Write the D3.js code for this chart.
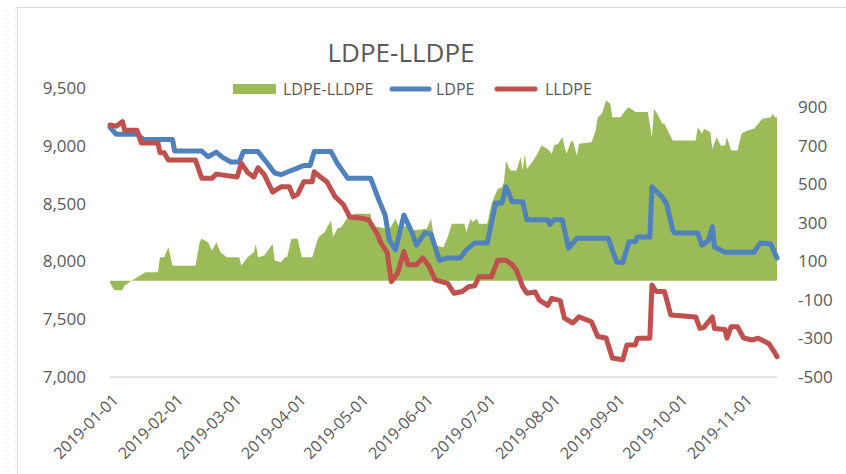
<!DOCTYPE html>
<html>
<head>
<meta charset="utf-8">
<script src="https://cdn.jsdelivr.net/npm/d3@7"></script>
<style>
  body { margin: 0; background: #fff; }
  text { font-family: "Open Sans", "Noto Sans", sans-serif; fill: #595959; }
</style>
</head>
<body>
<div id="chart"></div>
<script>
// LDPE price (left axis)
var ldpeDates = [
  "2019-01-01","2019-01-04","2019-01-14","2019-01-17","2019-01-31","2019-02-01","2019-02-14","2019-02-17","2019-02-21","2019-02-24",
  "2019-02-28","2019-03-04","2019-03-06","2019-03-13","2019-03-17","2019-03-21","2019-03-24","2019-03-28","2019-03-31","2019-04-04",
  "2019-04-07","2019-04-09","2019-04-17","2019-04-20","2019-04-25","2019-05-06","2019-05-10","2019-05-13","2019-05-15","2019-05-18",
  "2019-05-20","2019-05-22","2019-05-26","2019-05-28","2019-06-01","2019-06-04","2019-06-08","2019-06-12","2019-06-18","2019-06-21",
  "2019-06-25","2019-07-01","2019-07-05","2019-07-08","2019-07-10","2019-07-13","2019-07-18","2019-07-20","2019-07-30","2019-07-31",
  "2019-08-02","2019-08-06","2019-08-09","2019-08-13","2019-08-28","2019-09-01","2019-09-04","2019-09-07","2019-09-10","2019-09-11",
  "2019-09-17","2019-09-18","2019-09-23","2019-09-25","2019-09-28","2019-09-29","2019-10-10","2019-10-12","2019-10-15","2019-10-17",
  "2019-10-18","2019-10-23","2019-11-06","2019-11-09","2019-11-14","2019-11-17"];
var ldpeValues = [
  9160,9100,9100,9055,9055,8955,8955,8905,8945,8900,
  8860,8860,8950,8950,8860,8765,8750,8780,8800,8830,
  8830,8950,8950,8850,8720,8720,8530,8400,8185,8100,
  8250,8400,8245,8140,8245,8238,8010,8030,8030,8100,
  8160,8160,8505,8505,8645,8515,8515,8360,8360,8320,
  8360,8360,8115,8200,8200,7995,7990,8170,8170,8210,
  8210,8645,8555,8500,8270,8245,8245,8140,8180,8300,
  8125,8080,8080,8160,8150,8030];

// LLDPE price (left axis)
var lldpeDates = [
  "2019-01-01","2019-01-04","2019-01-07","2019-01-08","2019-01-14","2019-01-16","2019-01-24","2019-01-25","2019-01-27","2019-01-29",
  "2019-02-11","2019-02-14","2019-02-19","2019-02-21","2019-03-03","2019-03-05","2019-03-08","2019-03-11","2019-03-13","2019-03-16",
  "2019-03-20","2019-03-24","2019-03-28","2019-03-30","2019-04-01","2019-04-04","2019-04-08","2019-04-09","2019-04-12","2019-04-15",
  "2019-04-19","2019-04-23","2019-04-26","2019-05-01","2019-05-05","2019-05-09","2019-05-11","2019-05-14","2019-05-16","2019-05-19",
  "2019-05-22","2019-05-24","2019-05-28","2019-05-31","2019-06-03","2019-06-06","2019-06-12","2019-06-15","2019-06-19","2019-06-22",
  "2019-06-25","2019-06-27","2019-07-03","2019-07-06","2019-07-10","2019-07-13","2019-07-15","2019-07-18","2019-07-20","2019-07-24",
  "2019-07-26","2019-07-30","2019-08-01","2019-08-05","2019-08-07","2019-08-11","2019-08-14","2019-08-20","2019-08-23","2019-08-27",
  "2019-08-30","2019-09-04","2019-09-06","2019-09-10","2019-09-11","2019-09-17","2019-09-18","2019-09-20","2019-09-24","2019-09-27",
  "2019-10-09","2019-10-11","2019-10-13","2019-10-17","2019-10-18","2019-10-23","2019-10-24","2019-10-26","2019-10-29","2019-11-01",
  "2019-11-05","2019-11-08","2019-11-13","2019-11-16","2019-11-17"];
var lldpeValues = [
  9180,9170,9210,9135,9135,9025,9025,8940,8940,8877,
  8877,8720,8720,8755,8730,8850,8770,8730,8810,8750,
  8600,8645,8645,8560,8580,8690,8690,8775,8730,8690,
  8560,8490,8385,8375,8360,8245,8160,8075,7825,7900,
  8085,7970,7970,8030,7960,7840,7810,7725,7740,7780,
  7790,7867,7867,8010,8010,7970,7925,7780,7725,7735,
  7665,7620,7680,7660,7510,7467,7520,7478,7350,7337,
  7165,7150,7277,7277,7335,7335,7796,7740,7740,7537,
  7520,7420,7430,7520,7420,7410,7337,7435,7435,7337,
  7320,7335,7290,7208,7175];

// LDPE-LLDPE spread (right axis)
var spreadDates = [
  "2019-01-01","2019-01-03","2019-01-07","2019-01-08","2019-01-14","2019-01-18","2019-01-24","2019-01-25","2019-01-27","2019-01-29",
  "2019-01-31","2019-02-11","2019-02-13","2019-02-14","2019-02-17","2019-02-19","2019-02-21","2019-02-23","2019-02-26","2019-03-04",
  "2019-03-05","2019-03-08","2019-03-11","2019-03-12","2019-03-13","2019-03-16","2019-03-20","2019-03-21","2019-03-24","2019-03-26",
  "2019-03-27","2019-03-29","2019-04-01","2019-04-03","2019-04-08","2019-04-11","2019-04-14","2019-04-17","2019-04-18","2019-04-20",
  "2019-04-22","2019-04-24","2019-04-26","2019-04-29","2019-05-06","2019-05-07","2019-05-10","2019-05-15","2019-05-18","2019-05-20",
  "2019-05-25","2019-05-26","2019-06-02","2019-06-04","2019-06-06","2019-06-10","2019-06-12","2019-06-14","2019-06-20","2019-06-21",
  "2019-06-23","2019-06-24","2019-06-26","2019-06-27","2019-07-01","2019-07-03","2019-07-06","2019-07-08","2019-07-09","2019-07-10",
  "2019-07-12","2019-07-15","2019-07-17","2019-07-18","2019-07-19","2019-07-20","2019-07-23","2019-07-25","2019-07-27","2019-07-30",
  "2019-08-01","2019-08-02","2019-08-04","2019-08-06","2019-08-08","2019-08-10","2019-08-11","2019-08-13","2019-08-14","2019-08-20",
  "2019-08-22","2019-08-23","2019-08-25","2019-08-27","2019-08-29","2019-08-30","2019-09-03","2019-09-04","2019-09-06","2019-09-07",
  "2019-09-10","2019-09-16","2019-09-18","2019-09-19","2019-09-21","2019-09-23","2019-09-24","2019-09-26","2019-09-28","2019-10-09",
  "2019-10-10","2019-10-12","2019-10-13","2019-10-16","2019-10-17","2019-10-19","2019-10-21","2019-10-23","2019-10-24","2019-10-26",
  "2019-10-29","2019-10-31","2019-11-01","2019-11-03","2019-11-06","2019-11-10","2019-11-14","2019-11-15","2019-11-16","2019-11-17"];
var spreadValues = [
  -10,-50,-50,-25,18,44,44,122,122,174,
  78,78,200,217,200,157,200,148,122,122,
  78,122,148,190,122,130,190,105,96,122,
  122,217,217,122,122,225,252,312,225,269,
  278,312,338,347,347,278,278,265,322,269,
  295,260,269,322,182,174,225,295,295,252,
  321,305,321,295,295,399,476,485,511,623,
  572,572,640,572,658,580,623,658,701,684,
  658,701,710,745,658,719,727,650,710,719,
  780,848,866,935,918,848,848,866,892,900,
  875,875,745,892,857,814,814,770,727,727,
  797,762,788,770,684,745,701,701,745,675,
  675,762,770,779,788,840,848,866,848,848];

var monthTicks = ["2019-01-01","2019-02-01","2019-03-01","2019-04-01","2019-05-01","2019-06-01",
  "2019-07-01","2019-08-01","2019-09-01","2019-10-01","2019-11-01"];
var leftTicks = [7000, 7500, 8000, 8500, 9000, 9500];
var rightTicks = [-500, -300, -100, 100, 300, 500, 700, 900];

var seriesNames = ["LDPE-LLDPE", "LDPE", "LLDPE"];
var colors = { spread: "#9bbb59", ldpe: "#4f81bd", lldpe: "#c0504d" };

var width = 846, height = 474;
var parse = d3.timeParse("%Y-%m-%d");

function zip(dates, values) {
  return dates.map(function (d, i) { return { date: parse(d), value: values[i] }; });
}
var ldpe = zip(ldpeDates, ldpeValues);
var lldpe = zip(lldpeDates, lldpeValues);
var spread = zip(spreadDates, spreadValues);

var svg = d3.select("#chart").append("svg")
  .attr("width", width)
  .attr("height", height);

// outer frame and sheet dots
svg.append("rect")
  .attr("x", 17.5).attr("y", 7.5)
  .attr("width", 900).attr("height", 500)
  .attr("fill", "none")
  .attr("stroke", "#d9d9d9");
[6, 15].forEach(function (xx) {
  svg.append("line")
    .attr("x1", xx).attr("x2", xx)
    .attr("y1", 10).attr("y2", height)
    .attr("stroke", "#c8c8c8")
    .attr("stroke-dasharray", "1,7");
});

var plotLeft = 110, plotRight = 777, plotTop = 88, plotBottom = 377;

var x = d3.scaleTime()
  .domain([parse("2019-01-01"), parse("2019-11-17")])
  .range([plotLeft, plotRight]);
var yLeft = d3.scaleLinear().domain([7000, 9500]).range([plotBottom, plotTop]);
var yRight = d3.scaleLinear().domain([-500, 1000]).range([plotBottom, plotTop]);

// baseline gridline
svg.append("line")
  .attr("x1", plotLeft).attr("x2", plotRight)
  .attr("y1", plotBottom).attr("y2", plotBottom)
  .attr("stroke", "#d9d9d9")
  .attr("stroke-width", 1.5);

// spread area
var area = d3.area()
  .x(function (d) { return x(d.date); })
  .y0(yRight(0))
  .y1(function (d) { return yRight(d.value); });
svg.append("path")
  .datum(spread)
  .attr("d", area)
  .attr("fill", colors.spread);

var lineLeft = d3.line()
  .x(function (d) { return x(d.date); })
  .y(function (d) { return yLeft(d.value); });

svg.append("path")
  .datum(ldpe)
  .attr("d", lineLeft)
  .attr("fill", "none")
  .attr("stroke", colors.ldpe)
  .attr("stroke-width", 5)
  .attr("stroke-linejoin", "round")
  .attr("stroke-linecap", "round");

svg.append("path")
  .datum(lldpe)
  .attr("d", lineLeft)
  .attr("fill", "none")
  .attr("stroke", colors.lldpe)
  .attr("stroke-width", 5)
  .attr("stroke-linejoin", "round")
  .attr("stroke-linecap", "round");

// axes
var leftAxis = svg.append("g")
  .attr("transform", "translate(" + plotLeft + ",0)")
  .call(d3.axisLeft(yLeft).tickValues(leftTicks).tickSize(0).tickPadding(24).tickFormat(d3.format(",")));
var rightAxis = svg.append("g")
  .attr("transform", "translate(" + plotRight + ",0)")
  .call(d3.axisRight(yRight).tickValues(rightTicks).tickSize(0).tickPadding(21).tickFormat(function (d) { return String(d); }));
var bottomAxis = svg.append("g")
  .attr("transform", "translate(0," + plotBottom + ")")
  .call(d3.axisBottom(x).tickValues(monthTicks.map(parse)).tickSize(0).tickFormat(d3.timeFormat("%Y-%m-%d")));

[leftAxis, rightAxis, bottomAxis].forEach(function (g) {
  g.select(".domain").remove();
  g.selectAll("text")
    .style("font-family", "'Open Sans', sans-serif")
    .style("font-size", "17px")
    .attr("fill", "#595959");
});
bottomAxis.selectAll("text")
  .style("font-size", "16px")
  .attr("text-anchor", "end")
  .attr("x", 0).attr("y", 0).attr("dy", 0)
  .attr("transform", "translate(9,24) rotate(-45)");

// title
svg.append("text")
  .attr("x", 401).attr("y", 62)
  .attr("text-anchor", "middle")
  .style("font-size", "26px")
  .text("LDPE-LLDPE");

// legend
var legend = svg.append("g");
legend.append("rect")
  .attr("x", 233).attr("y", 84).attr("width", 43).attr("height", 10)
  .attr("fill", colors.spread);
legend.append("text").attr("x", 283).attr("y", 95).style("font-size", "16px").text(seriesNames[0]);
legend.append("line")
  .attr("x1", 392).attr("x2", 429).attr("y1", 89).attr("y2", 89)
  .attr("stroke", colors.ldpe).attr("stroke-width", 5).attr("stroke-linecap", "round");
legend.append("text").attr("x", 436).attr("y", 95).style("font-size", "16px").text(seriesNames[1]);
legend.append("line")
  .attr("x1", 497).attr("x2", 535).attr("y1", 89).attr("y2", 89)
  .attr("stroke", colors.lldpe).attr("stroke-width", 5).attr("stroke-linecap", "round");
legend.append("text").attr("x", 545).attr("y", 95).style("font-size", "16px").text(seriesNames[2]);
</script>
</body>
</html>
